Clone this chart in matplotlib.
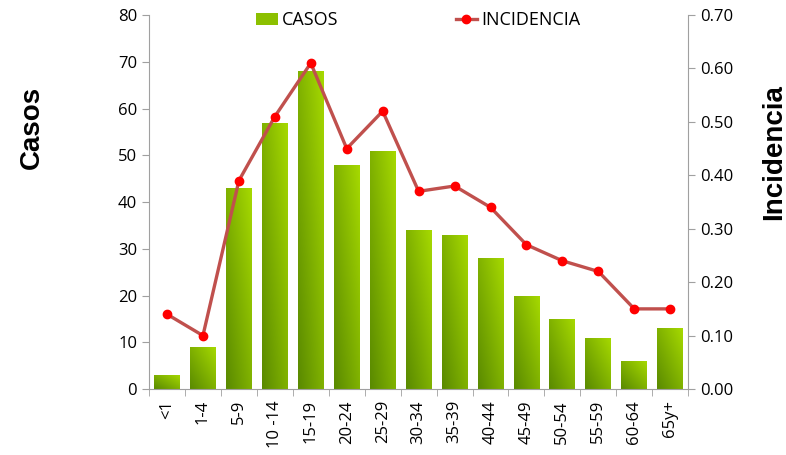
import numpy as np
import matplotlib.pyplot as plt
from matplotlib.colors import LinearSegmentedColormap

# datos
grupos = ['<1', '1-4', '5-9', '10 -14', '15-19', '20-24', '25-29', '30-34',
          '35-39', '40-44', '45-49', '50-54', '55-59', '60-64', '65y+']
casos = [3, 9, 43, 57, 68, 48, 51, 34, 33, 28, 20, 15, 11, 6, 13]
incidencia = [0.14, 0.10, 0.39, 0.51, 0.61, 0.45, 0.52, 0.37, 0.38, 0.34,
              0.27, 0.24, 0.22, 0.15, 0.15]

plt.rcParams['font.family'] = ['Open Sans', 'DejaVu Sans']

fig = plt.figure(figsize=(7.86, 4.55), dpi=100)
ax = fig.add_axes([0.1896, 0.145, 0.686, 0.822])
x = np.arange(len(grupos))

bars = ax.bar(x, casos, width=0.72, color='#8cc000', zorder=2, label='CASOS')

# degradado verde estilo excel dentro de cada barra
verde = LinearSegmentedColormap.from_list('verde', ['#5a8a00', '#a6d900'])
grad = np.add.outer(np.linspace(0, 1, 40), np.linspace(0, 1, 40)) / 2
for b in bars:
    bx, by = b.get_x(), b.get_y()
    im = ax.imshow(grad, cmap=verde, origin='lower', aspect='auto',
                   extent=[bx, bx + b.get_width(), by, by + b.get_height()],
                   zorder=2)
    im.set_clip_path(b)

ax.set_xlim(-0.5, len(grupos) - 0.5)
ax.set_ylim(0, 80)
ax.set_yticks(range(0, 81, 10))
ax.set_xticks(x)
ax.set_xticklabels(grupos, rotation=90, fontsize=12)
ax.set_xticks(np.arange(-0.5, len(grupos)), minor=True)
ax.tick_params(axis='x', which='major', length=0, pad=8)
ax.tick_params(axis='x', which='minor', length=5, color='#a0a0a0')
ax.tick_params(axis='y', length=5, color='#a0a0a0', labelsize=12)
ax.spines['top'].set_visible(False)
ax.spines['right'].set_visible(False)
for s in ['left', 'bottom']:
    ax.spines[s].set_color('#a0a0a0')

ax2 = ax.twinx()
linea, = ax2.plot(x, incidencia, color='#c0504d', lw=2.4, marker='o',
                  markersize=6, markerfacecolor='#ff0000',
                  markeredgecolor='#ff0000', zorder=3, label='INCIDENCIA')
ax2.set_ylim(0, 0.70)
ax2.set_yticks(np.arange(0, 0.71, 0.1))
ax2.set_yticklabels(['%.2f' % v for v in np.arange(0, 0.71, 0.1)])
ax2.tick_params(axis='y', length=5, color='#a0a0a0', labelsize=12)
ax2.spines['top'].set_visible(False)
ax2.spines['left'].set_visible(False)
ax2.spines['bottom'].set_visible(False)
ax2.spines['right'].set_color('#a0a0a0')

fig.legend([bars, linea], ['CASOS', 'INCIDENCIA'], ncol=2, frameon=False,
           loc='center', bbox_to_anchor=(0.532, 0.955), fontsize=13,
           columnspacing=6.5, handlelength=1.2, handletextpad=0.2)

fig.text(0.04, 0.72, 'Casos', rotation=90, fontsize=20, fontweight='bold',
         family='Liberation Sans', ha='center', va='center')
fig.text(0.985, 0.665, 'Incidencia', rotation=90, fontsize=20,
         fontweight='bold', family='Liberation Sans', ha='center', va='center')

fig.savefig('out.png', dpi=100)
